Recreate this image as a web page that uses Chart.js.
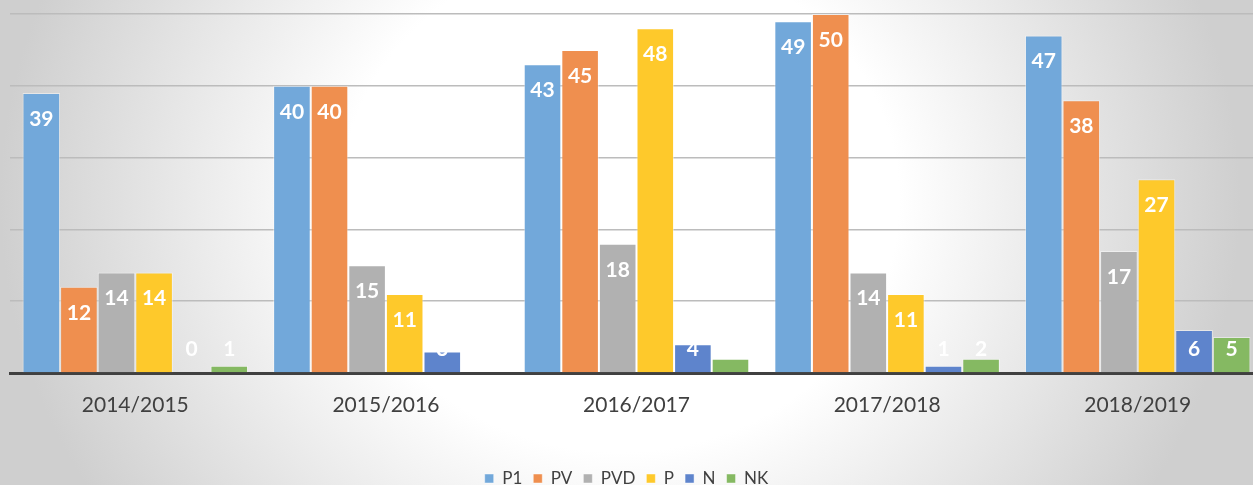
<!DOCTYPE html>
<html>
<head>
<meta charset="utf-8">
<script src="https://cdn.jsdelivr.net/npm/chart.js@4.4.1/dist/chart.umd.min.js"></script>
<style>
  html, body { margin: 0; padding: 0; overflow: hidden; }
  body {
    width: 1253px; height: 485px;
    background: radial-gradient(ellipse 620px 560px at 620px 200px, #ffffff 0%, #ffffff 45%, #cfcfcf 100%);
  }
  #wrap { position: relative; width: 1263px; height: 497px; }
</style>
</head>
<body>
<div id="wrap"><canvas id="chart"></canvas></div>
<script>
// Data
const seasons = ['2014/2015', '2015/2016', '2016/2017', '2017/2018', '2018/2019'];
const p1  = [39, 40, 43, 49, 47];
const pv  = [12, 40, 45, 50, 38];
const pvd = [14, 15, 18, 14, 17];
const p   = [14, 11, 48, 11, 27];
const n   = [0, 3, 4, 1, 6];
const nk  = [1, 0, 2, 2, 5];
const yTicks = [0, 10, 20, 30, 40, 50];

const series = [
    { label: 'P1',  data: p1,  color: '#72A8DA' },
    { label: 'PV',  data: pv,  color: '#EF8F4F' },
    { label: 'PVD', data: pvd, color: '#B1B1B1' },
    { label: 'P',   data: p,   color: '#FEC92B' },
    { label: 'N',   data: n,   color: '#5E84CC' },
    { label: 'NK',  data: nk,  color: '#85B962' }
];

// white value labels, inside the top of the bar (or at a fixed height for short bars)
const valueLabels = {
    id: 'valueLabels',
    afterDatasetsDraw(chart) {
        const ctx = chart.ctx;
        const base = chart.scales.y.getPixelForValue(0);
        ctx.save();
        ctx.font = 'bold 21px Lato';
        ctx.fillStyle = '#ffffff';
        ctx.textAlign = 'center';
        ctx.textBaseline = 'middle';
        chart.data.datasets.forEach((ds, i) => {
            chart.getDatasetMeta(i).data.forEach((bar, j) => {
                const y = Math.min(bar.y + 26, base - 24);
                ctx.fillText(String(ds.data[j]), bar.x, y);
            });
        });
        ctx.restore();
    }
};

// the legend sits a little left of the plot centre in the original
const shiftLegend = {
    id: 'shiftLegend',
    afterLayout(chart) {
        chart.legend.left -= 10;
        chart.legend.right -= 10;
    }
};

const ctx = document.getElementById('chart').getContext('2d');
const chart = new Chart(ctx, {
    type: 'bar',
    data: {
        labels: seasons,
        datasets: series.map(s => ({
            label: s.label,
            data: s.data,
            backgroundColor: s.color,
            borderColor: 'rgba(255,255,255,0.45)',
            borderWidth: 1,
            categoryPercentage: 0.9,
            barPercentage: 1
        }))
    },
    options: {
        responsive: true,
        maintainAspectRatio: false,
        animation: false,
        layout: { padding: { left: 10, top: 14, right: 0, bottom: 0 } },
        plugins: {
            legend: {
                position: 'bottom',
                labels: {
                    color: '#404040',
                    font: { family: 'Lato', size: 17 },
                    boxWidth: 9,
                    boxHeight: 9,
                    padding: 11
                }
            },
            tooltip: { enabled: false }
        },
        scales: {
            x: {
                grid: { display: false },
                border: { color: '#404040', width: 3 },
                ticks: { color: '#404040', font: { family: 'Lato', size: 21 }, padding: 12 },
                afterFit: (axis) => { axis.height = 86; }
            },
            y: {
                min: 0,
                max: 50,
                afterBuildTicks: (axis) => { axis.ticks = yTicks.map(v => ({ value: v })); },
                grid: { color: '#bcbcbc', lineWidth: 1.5, drawTicks: false },
                border: { display: false },
                ticks: { display: false }
            }
        }
    },
    plugins: [valueLabels, shiftLegend]
});
</script>
</body>
</html>
